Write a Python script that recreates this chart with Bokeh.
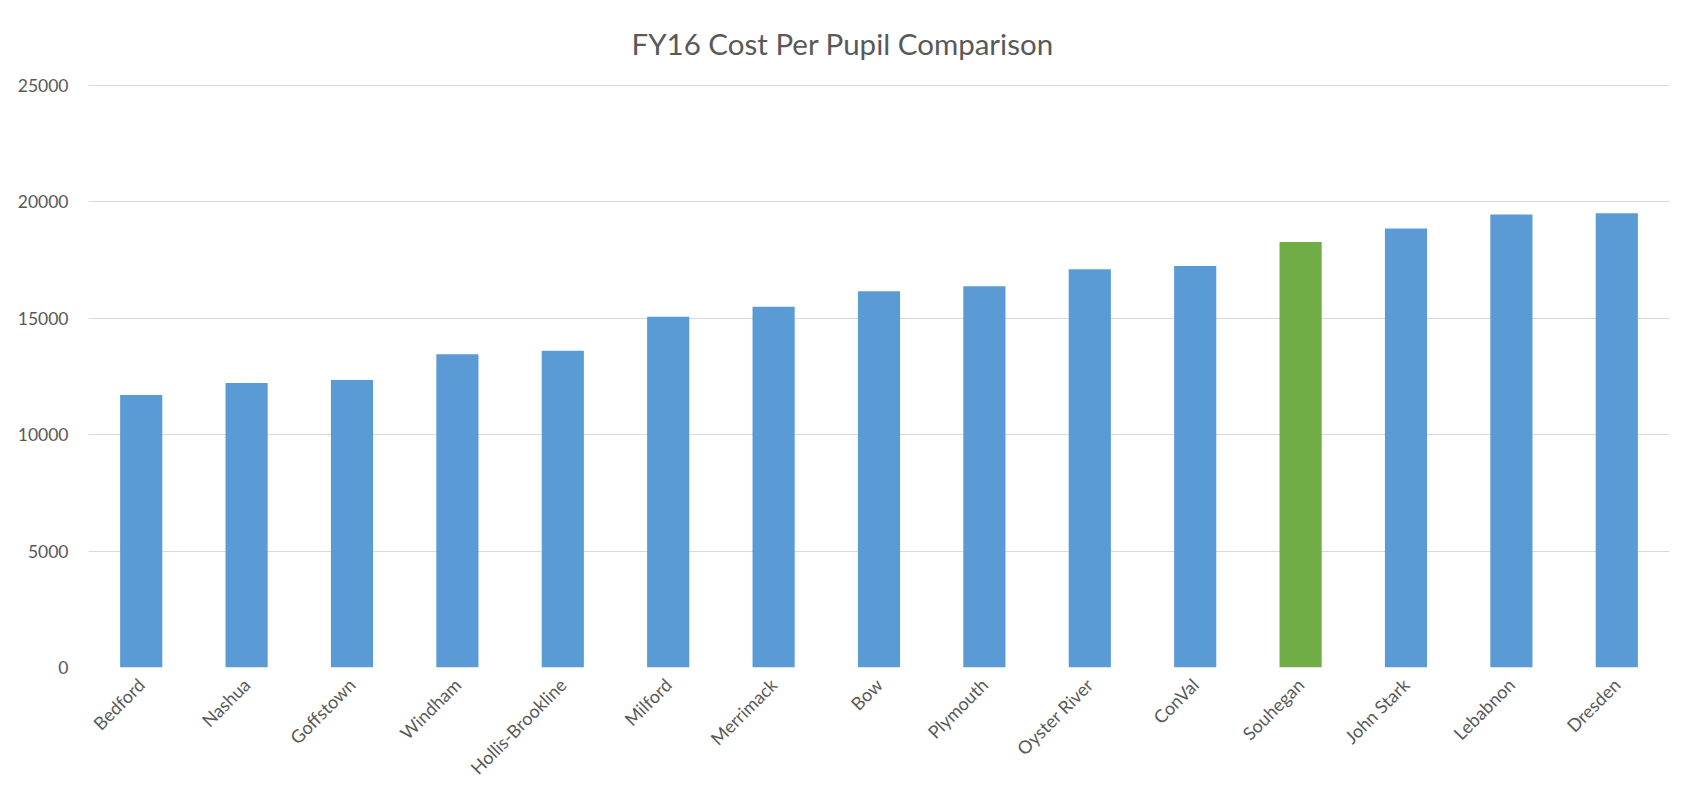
import math
from bokeh.plotting import figure
from bokeh.models import ColumnDataSource, FactorRange, Range1d, FixedTicker
from bokeh.embed import file_html
from bokeh.resources import INLINE

# ---- data ----
districts = ["Bedford", "Nashua", "Goffstown", "Windham", "Hollis-Brookline",
             "Milford", "Merrimack", "Bow", "Plymouth", "Oyster River",
             "ConVal", "Souhegan", "John Stark", "Lebabnon", "Dresden"]
cost_per_pupil = [11707, 12224, 12353, 13458, 13601,
                  15065, 15495, 16155, 16370, 17102,
                  17245, 18278, 18852, 19455, 19512]
highlight = "Souhegan"
y_ticks = [0, 5000, 10000, 15000, 20000, 25000]
title_text = "FY16 Cost Per Pupil Comparison"

BLUE = "#5B9BD5"
GREEN = "#70AD47"
TEXT = "#595959"
GRID = "#D9D9D9"
FONT = "Lato"

colors = [GREEN if d == highlight else BLUE for d in districts]
src = ColumnDataSource(dict(district=districts, cost=cost_per_pupil, color=colors))

p = figure(width=1693, height=805,
           x_range=FactorRange(*districts), y_range=Range1d(0, 25040),
           output_backend="svg", toolbar_location=None,
           min_border_left=88, min_border_right=24,
           min_border_top=84, min_border_bottom=138,
           background_fill_color="white", border_fill_color="white")
p.outline_line_color = None

p.vbar(x="district", top="cost", width=0.40, source=src,
       fill_color="color", line_color=None)

# title
p.title.text = title_text
p.title.align = "left"
p.title.offset = 543
p.title.text_font = FONT
p.title.text_font_size = "29.5px"
p.title.text_font_style = "normal"
p.title.text_color = TEXT
p.title.standoff = 47

# y axis
p.yaxis.ticker = FixedTicker(ticks=y_ticks)
p.yaxis.axis_line_color = None
p.yaxis.major_tick_line_color = None
p.yaxis.minor_tick_line_color = None
p.yaxis.major_tick_out = 0
p.yaxis.major_tick_in = 0
p.yaxis.major_label_standoff = 20
p.yaxis.major_label_text_font = FONT
p.yaxis.major_label_text_font_size = "17.5px"
p.yaxis.major_label_text_color = TEXT

# x axis
p.xaxis.axis_line_color = None
p.xaxis.major_tick_line_color = None
p.xaxis.major_tick_out = 0
p.xaxis.major_tick_in = 0
p.xaxis.major_label_orientation = math.pi / 4
p.xaxis.major_label_standoff = 14
p.xaxis.major_label_text_font = FONT
p.xaxis.major_label_text_font_size = "18px"
p.xaxis.major_label_text_color = TEXT

p.xgrid.grid_line_color = None
p.ygrid.grid_line_color = GRID
p.ygrid.grid_line_width = 1

open("out.html", "w").write(file_html(p, INLINE))
